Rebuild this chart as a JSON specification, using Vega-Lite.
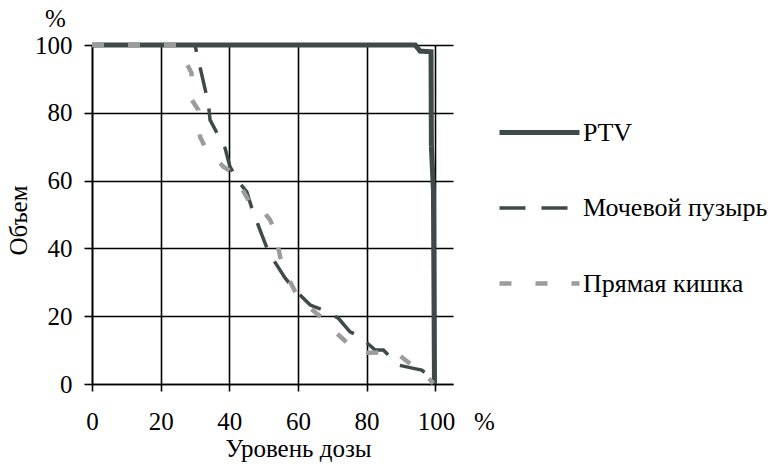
{
  "$schema": "https://vega.github.io/schema/vega-lite/v6.json",
  "autosize": "none",
  "padding": {"left": 92, "top": 45, "right": 324, "bottom": 80},
  "width": 361,
  "height": 339,
  "background": "white",
  "config": {
    "view": {"stroke": null},
    "font": "Liberation Serif",
    "axis": {"labelFont": "Liberation Serif", "titleFont": "Liberation Serif", "labelColor": "black", "titleColor": "black", "titleFontWeight": "normal"},
    "legend": {"labelFont": "Liberation Serif", "labelColor": "black"}
  },
  "title": {"text": "%", "anchor": "start", "frame": "group", "dx": -47, "dy": 25, "offset": 6, "baseline": "alphabetic", "fontSize": 25, "font": "Liberation Serif", "fontWeight": "normal", "color": "black"},
  "data": {"values": [
    {"series": "PTV", "dose": 0, "volume": 100},
    {"series": "PTV", "dose": 94.2, "volume": 100},
    {"series": "PTV", "dose": 95.6, "volume": 98.2},
    {"series": "PTV", "dose": 98.8, "volume": 98},
    {"series": "PTV", "dose": 98.9, "volume": 70},
    {"series": "PTV", "dose": 99.5, "volume": 57},
    {"series": "PTV", "dose": 99.8, "volume": 0},
    {"series": "Мочевой пузырь", "dose": 0, "volume": 100},
    {"series": "Мочевой пузырь", "dose": 30, "volume": 100},
    {"series": "Мочевой пузырь", "dose": 33.9, "volume": 82.8},
    {"series": "Мочевой пузырь", "dose": 34.4, "volume": 77.9},
    {"series": "Мочевой пузырь", "dose": 38.8, "volume": 69.5},
    {"series": "Мочевой пузырь", "dose": 40.2, "volume": 64.1},
    {"series": "Мочевой пузырь", "dose": 43.1, "volume": 59.2},
    {"series": "Мочевой пузырь", "dose": 45.1, "volume": 56.7},
    {"series": "Мочевой пузырь", "dose": 46.6, "volume": 51.8},
    {"series": "Мочевой пузырь", "dose": 49.5, "volume": 44},
    {"series": "Мочевой пузырь", "dose": 51.4, "volume": 39},
    {"series": "Мочевой пузырь", "dose": 56.3, "volume": 31.2},
    {"series": "Мочевой пузырь", "dose": 59.7, "volume": 27.2},
    {"series": "Мочевой пузырь", "dose": 63.6, "volume": 23.3},
    {"series": "Мочевой пузырь", "dose": 67.4, "volume": 21.8},
    {"series": "Мочевой пузырь", "dose": 71.8, "volume": 19.4},
    {"series": "Мочевой пузырь", "dose": 75.2, "volume": 15.4},
    {"series": "Мочевой пузырь", "dose": 78.1, "volume": 14},
    {"series": "Мочевой пузырь", "dose": 82.5, "volume": 10},
    {"series": "Мочевой пузырь", "dose": 84.9, "volume": 10},
    {"series": "Мочевой пузырь", "dose": 89.3, "volume": 5.6},
    {"series": "Мочевой пузырь", "dose": 93.7, "volume": 4.6},
    {"series": "Мочевой пузырь", "dose": 96.1, "volume": 4.1},
    {"series": "Мочевой пузырь", "dose": 99.5, "volume": 1.2},
    {"series": "Мочевой пузырь", "dose": 100, "volume": 0},
    {"series": "Прямая кишка", "dose": 0, "volume": 100},
    {"series": "Прямая кишка", "dose": 24.9, "volume": 100},
    {"series": "Прямая кишка", "dose": 27.6, "volume": 94.6},
    {"series": "Прямая кишка", "dose": 29, "volume": 91.7},
    {"series": "Прямая кишка", "dose": 29.1, "volume": 83.8},
    {"series": "Прямая кишка", "dose": 31, "volume": 80.8},
    {"series": "Прямая кишка", "dose": 31.5, "volume": 72.9},
    {"series": "Прямая кишка", "dose": 32.9, "volume": 70},
    {"series": "Прямая кишка", "dose": 38.3, "volume": 64.1},
    {"series": "Прямая кишка", "dose": 41.2, "volume": 62.2},
    {"series": "Прямая кишка", "dose": 46.1, "volume": 53.3},
    {"series": "Прямая кишка", "dose": 48, "volume": 53.3},
    {"series": "Прямая кишка", "dose": 51.9, "volume": 48.4},
    {"series": "Прямая кишка", "dose": 53.4, "volume": 44.9},
    {"series": "Прямая кишка", "dose": 54.8, "volume": 37.6},
    {"series": "Прямая кишка", "dose": 55.8, "volume": 34.1},
    {"series": "Прямая кишка", "dose": 59.2, "volume": 27.2},
    {"series": "Прямая кишка", "dose": 60.6, "volume": 24.8},
    {"series": "Прямая кишка", "dose": 68.4, "volume": 18.4},
    {"series": "Прямая кишка", "dose": 70.8, "volume": 15.4},
    {"series": "Прямая кишка", "dose": 77.6, "volume": 9.2},
    {"series": "Прямая кишка", "dose": 81, "volume": 9.2},
    {"series": "Прямая кишка", "dose": 88.3, "volume": 9.5},
    {"series": "Прямая кишка", "dose": 91.3, "volume": 7.1},
    {"series": "Прямая кишка", "dose": 97.6, "volume": 2.2},
    {"series": "Прямая кишка", "dose": 99.5, "volume": 0.2}
  ]},
  "mark": {"type": "line", "strokeCap": "butt", "strokeJoin": "miter", "clip": false},
  "encoding": {
    "x": {
      "field": "dose", "type": "quantitative",
      "scale": {"domain": [0, 105.2], "nice": false, "zero": false},
      "axis": {
        "values": [0, 20, 40, 60, 80, 100],
        "grid": true, "gridColor": "black", "gridWidth": 1.6, "gridOpacity": 1,
        "domain": true, "domainColor": "black", "domainWidth": 1.6,
        "ticks": true, "tickSize": 7, "tickColor": "black", "tickWidth": 1.6,
        "labelFontSize": 25, "labelPadding": 18,
        "labelExpr": "datum.value === 100 ? '100\u00a0\u00a0\u00a0%' : datum.label",
        "labelAlign": {"condition": {"test": "datum.value === 100", "value": "left"}, "value": "center"},
        "labelOffset": {"condition": {"test": "datum.value === 100", "value": -18}, "value": 0},
        "title": "Уровень дозы", "titleFontSize": 25,
        "titleX": 206, "titleY": 72, "titleBaseline": "alphabetic", "titleAnchor": null
      }
    },
    "y": {
      "field": "volume", "type": "quantitative",
      "scale": {"domain": [0, 100], "nice": false},
      "axis": {
        "values": [0, 20, 40, 60, 80, 100],
        "grid": true, "gridColor": "black", "gridWidth": 1.6, "gridOpacity": 1,
        "domain": true, "domainColor": "black", "domainWidth": 1.6,
        "ticks": true, "tickSize": 8, "tickColor": "black", "tickWidth": 1.6,
        "labelFontSize": 25, "labelPadding": 12,
        "title": "Объем", "titleFontSize": 25,
        "titleX": -74, "titleY": 175, "titleAngle": -90, "titleBaseline": "middle", "titleAlign": "center"
      }
    },
    "color": {
      "field": "series", "type": "nominal",
      "scale": {"domain": ["PTV", "Мочевой пузырь", "Прямая кишка"], "range": ["#3f4949", "#3f4949", "#9c9c9c"]},
      "legend": {
        "title": null, "orient": "none", "legendX": 405, "legendY": 45, "padding": 0,
        "symbolType": "stroke", "symbolSize": 6400, "labelFontSize": 26, "labelOffset": 1,
        "rowPadding": 20, "labelLimit": 400
      }
    },
    "strokeDash": {
      "field": "series", "type": "nominal",
      "scale": {"domain": ["PTV", "Мочевой пузырь", "Прямая кишка"], "range": [[1, 0], [26, 16], [12, 24]]},
      "legend": {
        "title": null, "orient": "none", "legendX": 405, "legendY": 45, "padding": 0,
        "symbolType": "stroke", "symbolSize": 6400, "labelFontSize": 26, "labelOffset": 1,
        "rowPadding": 20, "labelLimit": 400
      }
    },
    "strokeWidth": {
      "field": "series", "type": "nominal",
      "scale": {"type": "ordinal", "domain": ["PTV", "Мочевой пузырь", "Прямая кишка"], "range": [5, 3.5, 4.5]},
      "legend": {
        "title": null, "orient": "none", "legendX": 405, "legendY": 45, "padding": 0,
        "symbolType": "stroke", "symbolSize": 6400, "labelFontSize": 26, "labelOffset": 1,
        "rowPadding": 20, "labelLimit": 400
      }
    },
    "order": {"value": null}
  }
}
